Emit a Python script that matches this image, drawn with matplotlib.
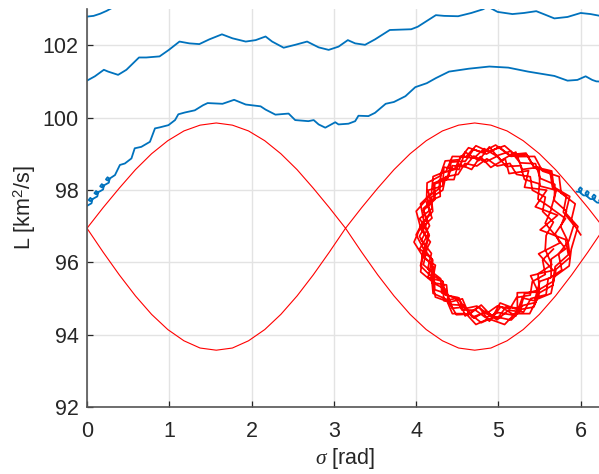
import matplotlib
matplotlib.use("Agg")
import matplotlib.pyplot as plt

plt.rcParams['font.family'] = ['Liberation Sans', 'DejaVu Sans']
plt.rcParams['mathtext.fontset'] = 'custom'
plt.rcParams['mathtext.rm'] = 'Liberation Sans'
plt.rcParams['mathtext.it'] = 'Liberation Serif:italic'

# ---------------- data ----------------
x_ticks = [0, 1, 2, 3, 4, 5, 6]
y_ticks = [92, 94, 96, 98, 100, 102]

# separatrix (red)
sep_sigma = [0.0, 0.196, 0.393, 0.589, 0.785, 0.982, 1.178, 1.374, 1.571, 1.767, 1.963,
             2.160, 2.356, 2.553, 2.749, 2.945, 3.142, 3.338, 3.534, 3.731, 3.927, 4.123,
             4.320, 4.516, 4.712, 4.909, 5.105, 5.301, 5.498, 5.694, 5.890, 6.087, 6.283]
sep_upper = [96.94, 97.51, 98.05, 98.56, 99.00, 99.36, 99.63, 99.79, 99.85, 99.79, 99.63,
             99.36, 99.00, 98.56, 98.05, 97.51, 96.94, 97.51, 98.05, 98.56, 99.00, 99.36,
             99.63, 99.79, 99.85, 99.79, 99.63, 99.36, 99.00, 98.56, 98.05, 97.51, 96.94]
sep_lower = [96.94, 96.28, 95.65, 95.07, 94.56, 94.14, 93.83, 93.63, 93.57, 93.63, 93.83,
             94.14, 94.56, 95.07, 95.65, 96.28, 96.94, 96.28, 95.65, 95.07, 94.56, 94.14,
             93.83, 93.63, 93.57, 93.63, 93.83, 94.14, 94.56, 95.07, 95.65, 96.28, 96.94]

# blue trajectory, lower branch (with loops at left)
blue_low_sigma = [0.0, 0.055, 0.065, 0.04, 0.02, 0.04,
                  0.07, 0.125, 0.135, 0.11, 0.09, 0.11,
                  0.14, 0.195, 0.205, 0.18, 0.16, 0.18,
                  0.21, 0.265, 0.275, 0.25, 0.23, 0.25,
                  0.28, 0.34, 0.40, 0.46, 0.54, 0.58, 0.66, 0.765, 0.826, 0.887, 0.99,
                  1.07, 1.11, 1.19, 1.31, 1.41, 1.466, 1.647, 1.788, 1.929, 2.11, 2.17,
                  2.29, 2.45, 2.53, 2.69, 2.755, 2.815, 2.896, 3.017, 3.057, 3.178, 3.259,
                  3.299, 3.42, 3.50, 3.63, 3.73, 3.87, 3.99, 4.13, 4.24, 4.40, 4.64, 4.89,
                  5.12, 5.36, 5.68, 5.84, 5.96, 6.06, 6.14, 6.19, 6.283]
blue_low_L = [97.56, 97.63, 97.73, 97.78, 97.72, 97.69,
              97.75, 97.82, 97.92, 97.97, 97.91, 97.88,
              97.94, 98.01, 98.11, 98.16, 98.10, 98.07,
              98.13, 98.20, 98.30, 98.35, 98.29, 98.26,
              98.32, 98.41, 98.69, 98.73, 98.87, 99.15, 99.19, 99.33, 99.70, 99.73, 99.79,
              99.93, 100.09, 100.14, 100.20, 100.34, 100.40, 100.38, 100.49, 100.36, 100.31, 100.22,
              100.08, 100.11, 99.93, 99.90, 99.93, 99.81, 99.72, 99.87, 99.81, 99.83, 99.90,
              100.05, 100.04, 100.13, 100.38, 100.43, 100.59, 100.84, 100.95, 101.09, 101.27, 101.35, 101.41,
              101.38, 101.27, 101.15, 101.02, 101.04, 101.14, 101.04, 101.00, 100.99]

# blue trajectory, middle branch
blue_mid_sigma = [0.0, 0.096, 0.205, 0.257, 0.378, 0.479, 0.632, 0.72, 0.882, 0.995, 1.124,
                  1.245, 1.365, 1.486, 1.64, 1.768, 1.929, 2.05, 2.17, 2.25, 2.39, 2.53,
                  2.675, 2.815, 2.937, 3.057, 3.17, 3.259, 3.379, 3.50, 3.68, 3.94, 4.02,
                  4.24, 4.34, 4.51, 4.67, 4.81, 4.85, 4.90, 4.99, 5.17, 5.31, 5.46, 5.56,
                  5.68, 5.84, 6.00, 6.12, 6.19, 6.283]
blue_mid_L = [101.02, 101.14, 101.32, 101.27, 101.18, 101.32, 101.66, 101.66, 101.69, 101.87, 102.10,
              102.05, 102.03, 102.16, 102.30, 102.19, 102.10, 102.14, 102.24, 102.10, 101.93, 102.01,
              102.10, 101.94, 101.87, 101.96, 102.14, 102.05, 102.01, 102.16, 102.42, 102.44, 102.51,
              102.83, 102.81, 102.80, 102.89, 102.99, 103.04, 103.03, 102.92, 102.86, 102.89, 102.94, 102.85,
              102.74, 102.78, 102.89, 102.86, 102.83, 102.79]

# blue trajectory, top-left wrap
blue_top_sigma = [0.0, 0.08, 0.16, 0.24, 0.32]
blue_top_L = [102.79, 102.81, 102.87, 102.95, 103.05]

# blue trajectory, loops at right edge
blue_right_sigma = [5.95, 6.00, 6.015, 5.995, 5.975, 6.00,
                    6.033, 6.083, 6.098, 6.078, 6.058, 6.083,
                    6.116, 6.166, 6.181, 6.161, 6.141, 6.166,
                    6.199, 6.249, 6.264, 6.244, 6.224, 6.249, 6.283]
blue_right_L = [97.95, 97.94, 98.03, 98.07, 98.01, 97.91,
                97.85, 97.84, 97.93, 97.97, 97.91, 97.81,
                97.75, 97.74, 97.83, 97.87, 97.81, 97.71,
                97.65, 97.64, 97.73, 97.77, 97.71, 97.61, 97.55]

# red librating trajectory (several turns)
blob_sigma = [
    6.00, 5.885, 5.933, 5.763, 5.738, 5.536, 5.44, 5.229, 5.075, 4.88, 4.727, 4.606,
    4.44, 4.366, 4.206, 4.187, 4.053, 4.092, 4.00, 4.092, 4.053, 4.187, 4.206, 4.366,
    4.44, 4.606, 4.727, 4.88, 5.075, 5.20, 5.38, 5.47, 5.64, 5.68, 5.86, 5.885,
    5.966, 5.817, 5.867, 5.673, 5.648, 5.433, 5.335, 5.124, 4.966, 4.799, 4.637, 4.523,
    4.353, 4.29, 4.133, 4.127, 4.001, 4.053, 3.974, 4.078, 4.055, 4.198, 4.234, 4.399,
    4.489, 4.658, 4.792, 4.955, 5.155, 5.285, 5.43, 5.50, 5.66, 5.70, 5.87, 5.846,
    5.757, 5.827, 5.679, 5.686, 5.508, 5.451, 5.264, 5.149, 4.975, 4.827, 4.703, 4.545,
    4.464, 4.306, 4.278, 4.139, 4.166, 4.063, 4.143, 4.089, 4.211, 4.212, 4.363, 4.418,
    4.579, 4.682, 4.834, 4.984, 5.123, 5.306, 5.394, 5.579, 5.604, 5.77, 5.731, 5.856,
    5.916, 5.789, 5.826, 5.657, 5.627, 5.437, 5.343, 5.153, 5.007, 4.854, 4.697, 4.599,
    4.426, 4.383, 4.216, 4.231, 4.089, 4.163, 4.063, 4.186, 4.141, 4.298, 4.312, 4.484,
    4.556, 4.723, 4.845, 4.998, 5.179, 5.301, 5.45, 5.50, 5.66, 5.69, 5.85, 5.816,
    5.507, 5.719, 5.448, 5.587, 5.317, 5.367, 5.129, 5.083, 4.907, 4.78, 4.674, 4.512,
    4.46, 4.284, 4.293, 4.125, 4.193, 4.053, 4.173, 4.077, 4.234, 4.195, 4.369, 4.391,
    4.562, 4.643, 4.791, 4.928, 5.021, 5.231, 5.229, 5.486, 5.391, 5.665, 5.488, 5.746,
    5.69, 5.816, 5.642, 5.704, 5.503, 5.494, 5.29, 5.211, 5.029, 4.89, 4.761, 4.596,
    4.52, 4.337, 4.323, 4.145, 4.194, 4.043, 4.15, 4.043, 4.194, 4.145, 4.323, 4.337,
    4.52, 4.596, 4.761, 4.89, 5.029, 5.211, 5.29, 5.44, 5.503, 5.64, 5.642, 5.816,
    5.70, 5.569, 5.648, 5.481, 5.499, 5.316, 5.27, 5.093, 4.99, 4.84, 4.701, 4.594,
    4.44, 4.377, 4.227, 4.216, 4.088, 4.131, 4.04, 4.131, 4.088, 4.216, 4.227, 4.377,
    4.44, 4.594, 4.701, 4.84, 4.99, 5.093, 5.27, 5.316, 5.499, 5.481, 5.648, 5.569,
    5.58, 5.668, 5.537, 5.57, 5.412, 5.387, 5.22, 5.14, 4.985, 4.86, 4.738, 4.593,
    4.51, 4.358, 4.324, 4.185, 4.202, 4.092, 4.16, 4.092, 4.202, 4.185, 4.324, 4.358,
    4.51, 4.593, 4.738, 4.86, 4.985, 5.14, 5.22, 5.387, 5.412, 5.57, 5.537, 5.668]
blob_L = [
    96.76, 97.16, 97.615, 97.91, 98.368, 98.52, 98.925, 98.92, 99.22, 99.06, 99.22, 98.92,
    98.925, 98.52, 98.37, 97.91, 97.615, 97.16, 96.76, 96.36, 95.90, 95.60, 95.14, 94.98,
    94.58, 94.58, 94.28, 94.44, 94.28, 94.58, 94.58, 94.98, 95.14, 95.60, 95.90, 96.36,
    96.986, 97.361, 97.819, 98.079, 98.523, 98.637, 99.017, 98.972, 99.24, 99.041, 99.166, 98.836,
    98.801, 98.382, 98.194, 97.734, 97.412, 96.968, 96.557, 96.179, 95.734, 95.461, 95.038, 94.903,
    94.55, 94.568, 94.33, 94.499, 94.403, 94.704, 94.763, 95.158, 95.364, 95.806, 96.135, 96.572,
    96.987, 97.409, 97.709, 98.149, 98.32, 98.725, 98.748, 99.07, 98.941, 99.141, 98.877, 98.929,
    98.561, 98.461, 98.034, 97.794, 97.357, 97.004, 96.609, 96.178, 95.869, 95.422, 95.245, 94.834,
    94.807, 94.482, 94.609, 94.41, 94.675, 94.626, 94.998, 95.103, 95.537, 95.785, 96.23, 96.591,
    97.027, 97.385, 97.827, 98.071, 98.503, 98.605, 98.976, 98.926, 99.19, 98.991, 99.119, 98.795,
    98.769, 98.361, 98.186, 97.742, 97.436, 97.01, 96.615, 96.245, 95.822, 95.546, 95.151, 95.002,
    94.682, 94.675, 94.469, 94.609, 94.54, 94.809, 94.887, 95.251, 95.465, 95.881, 96.209, 96.627,
    96.895, 97.30, 97.534, 97.993, 98.073, 98.532, 98.451, 98.855, 98.622, 98.921, 98.565, 98.723,
    98.286, 98.285, 97.821, 97.661, 97.222, 96.921, 96.563, 96.147, 95.918, 95.438, 95.373, 94.887,
    94.99, 94.556, 94.818, 94.489, 94.875, 94.691, 95.158, 95.175, 95.628, 95.778, 96.233, 96.534,
    96.79, 97.208, 97.491, 97.99, 98.108, 98.628, 98.565, 99.046, 98.809, 99.19, 98.809, 99.046,
    98.565, 98.628, 98.108, 97.99, 97.491, 97.208, 96.79, 96.369, 96.089, 95.58, 95.472, 94.936,
    95.015, 94.515, 94.771, 94.37, 94.771, 94.515, 95.015, 94.936, 95.472, 95.58, 96.089, 96.369,
    96.72, 97.077, 97.49, 97.745, 98.167, 98.29, 98.669, 98.647, 98.936, 98.77, 98.936, 98.647,
    98.669, 98.29, 98.167, 97.745, 97.49, 97.077, 96.72, 96.358, 95.933, 95.68, 95.241, 95.127,
    94.728, 94.765, 94.454, 94.64, 94.454, 94.765, 94.728, 95.127, 95.241, 95.68, 95.933, 96.358,
    96.74, 97.109, 97.407, 97.80, 97.994, 98.364, 98.429, 98.733, 98.661, 98.86, 98.661, 98.733,
    98.429, 98.364, 97.994, 97.80, 97.407, 97.109, 96.74, 96.366, 96.063, 95.665, 95.467, 95.093,
    95.025, 94.719, 94.79, 94.59, 94.79, 94.719, 95.025, 95.093, 95.467, 95.665, 96.063, 96.366]

# ---------------- plot ----------------
BLUE = '#0072BD'
RED = '#FF0000'
AX_COL = '#262626'

fig = plt.figure(figsize=(5.99, 4.74), dpi=100)
ax = fig.add_axes([87 / 599, 67 / 474, 517 / 599, 398 / 474])

for s, l in [(blue_low_sigma, blue_low_L), (blue_mid_sigma, blue_mid_L),
             (blue_top_sigma, blue_top_L), (blue_right_sigma, blue_right_L)]:
    ax.plot(s, l, color=BLUE, lw=1.3, solid_joinstyle='round')

ax.plot(sep_sigma, sep_upper, color=RED, lw=0.8)
ax.plot(sep_sigma, sep_lower, color=RED, lw=0.8)
ax.plot(blob_sigma, blob_L, color=RED, lw=1.25, solid_joinstyle='round')

ax.set_xlim(0, 6.2832)
ax.set_ylim(92, 103)
ax.set_xticks(x_ticks)
ax.set_yticks(y_ticks)
ax.grid(True, color='#e3e3e3', lw=1.0)
ax.set_axisbelow(True)
for side in ['top', 'right']:
    ax.spines[side].set_visible(False)
for side in ['left', 'bottom']:
    ax.spines[side].set_color('#555555')
    ax.spines[side].set_linewidth(1.2)
ax.tick_params(direction='in', length=4, width=0.9, color=AX_COL,
               labelsize=15.5, labelcolor=AX_COL)
ax.tick_params(axis='x', pad=10)
ax.tick_params(axis='y', pad=6)
ax.set_xlabel(r'$\sigma$ [rad]', fontsize=15.5, color=AX_COL, labelpad=3)
ax.set_ylabel(r'L [km$^2$/s]', fontsize=15.5, color=AX_COL, labelpad=3)

fig.savefig('out.png', dpi=100)
